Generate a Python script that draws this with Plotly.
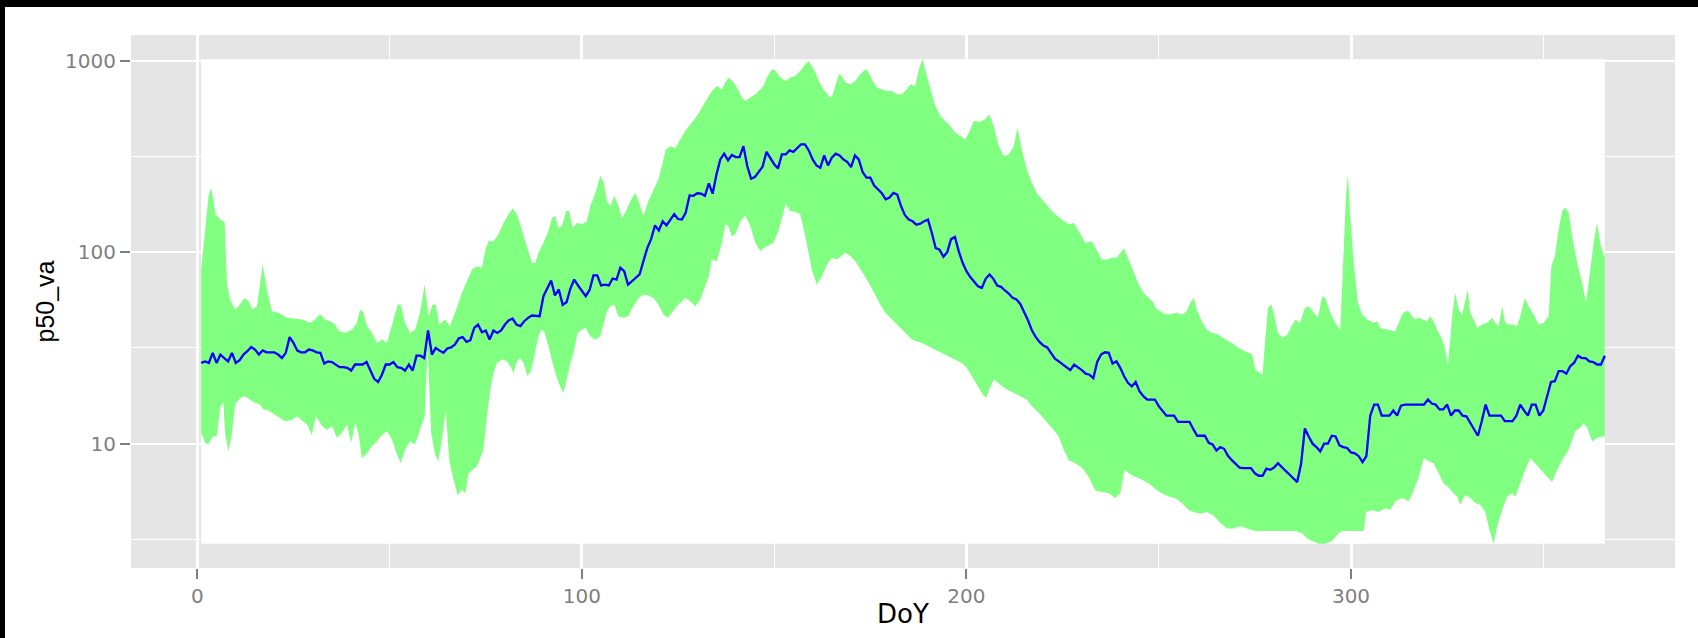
import plotly.graph_objects as go
import math

# ---------------- data ----------------
median = [
    26.4, 26.9, 26.4, 29.8, 26.4, 29.2, 28.0, 26.9, 29.8, 26.4,
    27.3, 29.2, 30.4, 32.0, 31.0, 29.2, 30.7, 30.0, 30.0, 30.0,
    29.2, 28.0, 29.8, 36.0, 33.6, 30.6, 30.0, 30.0, 31.0, 30.7,
    30.0, 29.8, 26.2, 26.9, 26.7, 25.9, 25.1, 25.1, 24.9, 24.1,
    25.9, 25.9, 25.9, 26.7, 23.9, 21.8, 21.0, 22.9, 25.9, 25.9,
    26.7, 25.1, 24.9, 24.1, 25.9, 24.1, 28.8, 28.8, 28.0, 39.0,
    29.2, 31.6, 30.6, 29.8, 31.4, 31.8, 33.0, 35.5, 36.0, 34.0,
    34.7, 40.2, 41.9, 38.2, 39.0, 35.0, 39.0, 37.9, 39.0, 41.9,
    44.1, 44.9, 41.9, 41.1, 43.6, 45.4, 46.7, 46.3, 46.3, 58.9,
    64.4, 71.1, 59.4, 63.9, 53.1, 54.8, 64.4, 72.0, 67.0, 62.6,
    58.9, 63.5, 75.6, 75.6, 67.0, 67.6, 67.0, 72.9, 72.0, 82.9,
    79.6, 67.6, 70.6, 73.5, 76.5, 89.8, 105, 117, 138, 130,
    145, 138, 148, 158, 149, 148, 161, 198, 197, 203,
    202, 197, 229, 202, 255, 305, 327, 302, 322, 314,
    314, 358, 282, 242, 247, 265, 280, 334, 308, 288,
    274, 324, 324, 340, 334, 351, 366, 366, 340, 305,
    284, 276, 320, 284, 312, 327, 320, 305, 296, 278,
    320, 305, 262, 245, 245, 223, 213, 203, 189, 193,
    204, 200, 174, 156, 148, 145, 139, 141, 145, 148,
    126, 105, 103, 94.6, 100, 117, 120, 101, 88.0, 79.6,
    74.1, 70.0, 66.4, 65.1, 72.6, 76.5, 72.6, 67.0, 65.9, 63.1,
    60.8, 57.7, 56.6, 53.7, 48.8, 44.1, 39.1, 36.1, 34.0, 32.5,
    31.8, 29.8, 27.8, 26.9, 25.9, 25.1, 24.2, 25.9, 25.1, 24.2,
    23.2, 22.9, 22.0, 26.7, 29.2, 30.0, 29.8, 26.2, 26.9, 24.9,
    22.5, 20.8, 19.9, 21.0, 18.8, 17.7, 17.0, 17.0, 17.0, 15.7,
    14.8, 14.0, 14.0, 14.0, 13.0, 13.0, 13.0, 13.0, 11.9, 11.0,
    11.0, 11.0, 10.1, 9.9, 9.2, 9.6, 9.4, 8.65, 8.2, 7.8,
    7.5, 7.45, 7.45, 7.45, 7.0, 6.8, 6.8, 7.4, 7.3, 7.5,
    7.9, 7.5, 7.2, 6.9, 6.6, 6.3, 7.8, 12.0, 10.9, 10.0,
    9.6, 9.1, 10.0, 10.0, 11.0, 10.9, 9.8, 9.6, 9.5, 9.0,
    8.9, 8.6, 8.0, 8.6, 14.0, 16.0, 16.0, 14.0, 14.0, 14.0,
    14.9, 14.0, 15.8, 16.0, 16.0, 16.0, 16.0, 16.0, 16.0, 17.0,
    16.2, 16.0, 15.1, 15.1, 16.0, 14.0, 14.9, 14.9, 14.0, 13.9,
    12.8, 11.8, 11.0, 13.1, 16.0, 14.0, 14.0, 14.0, 14.0, 13.1,
    13.1, 13.1, 14.0, 16.0, 14.9, 14.0, 16.0, 16.0, 14.0, 14.9,
    17.7, 21.0, 21.2, 23.9, 23.9, 23.2, 25.4, 26.4, 28.8, 28.0,
    28.0, 26.9, 26.7, 25.9, 25.9, 28.8,
]
doy = list(range(1, len(median) + 1))

upper_doy = [
    1, 2, 2.9, 3.6, 4.8, 5.9, 7.1, 7.7, 8.5, 9.8, 10.7, 12.3, 13.3, 14.3, 15.5, 17.0, 18.1, 19.4,
    21.1, 23.3, 25.4, 27.2, 29.3, 30.6, 31.9, 33.2, 34.5, 35.8, 36.9, 38.4, 40.2, 41.5, 42.3, 43.2,
    44.1, 45.4, 46.7, 48.0, 49.3, 50.6, 52.1, 52.9, 54.0, 55.3, 56.6, 57.9, 59.1, 60.1, 61.2, 62.0,
    62.9, 64.4, 65.7, 67.0, 68.8, 70.1, 71.4, 72.7, 74.0, 74.9, 75.7, 77.0, 78.3, 79.6, 80.9, 82.0,
    83.1, 84.4, 85.7, 87.0, 87.9, 88.7, 90.0, 91.3, 92.2, 93.1, 93.8, 94.8, 95.9, 96.7, 97.6, 98.7,
    100.0, 101.3, 102.2, 103.5, 104.8, 105.6, 106.5, 107.4, 108.4, 109.5, 110.4, 111.3, 112.6, 113.9,
    114.9, 116.0, 117.3, 118.6, 119.9, 120.8, 121.8, 123.0,
    124.3, 125.6, 126.9, 128.6, 129.9, 131.2, 132.5, 133.8, 135.1, 136.4, 137.3, 138.1, 139.2, 140.3,
    141.6, 142.5, 143.8, 145.1, 146.4, 147.2, 148.1, 149.4, 150.3, 151.6, 152.9, 154.2, 155.5, 156.8,
    158.1, 159.0, 159.8, 160.7, 161.6, 162.8, 164.2, 165.0, 165.9, 166.8, 167.6, 168.5, 169.8, 171.1,
    172.0, 173.3, 174.1, 175.4, 176.7, 178.0, 179.3, 180.6, 181.9, 183.2, 184.5, 185.4, 186.7,
    187.6, 188.6, 189.7, 190.6, 191.9, 193.2, 194.5, 195.8, 197.1, 198.4, 199.7, 200.6, 201.9, 203.6,
    204.9, 205.9, 207.1, 208.4, 209.7, 211.0, 212.3, 213.3, 214.4, 215.7, 217.0, 218.3, 219.6, 221.4,
    223.1, 224.8, 226.6, 227.9, 229.2, 230.9, 232.6, 233.9, 235.2, 236.5, 237.8, 239.1, 240.9, 242.2,
    243.5, 244.8, 246.1, 247.4, 248.7,
    249.1, 250.4, 251.7, 253.4, 254.7, 256.0, 257.3, 258.2, 259.1, 259.9, 261.2, 262.5, 263.8, 265.6,
    267.3, 269.0, 270.8, 272.5, 274.3, 275.1, 276.2, 277.0, 277.7, 278.4, 279.3, 280.1, 281.0, 282.1,
    283.4, 284.7, 285.5, 286.8, 288.0, 289.0, 290.3, 291.4, 292.5, 293.3, 294.6, 295.9, 297.2, 298.1,
    298.7, 299.2, 299.8, 300.7, 301.8, 302.9, 304.2, 305.9, 306.8, 307.6, 308.9, 310.2, 311.5,
    312.4, 313.3, 314.1, 315.0, 315.9, 316.7, 317.6, 318.5, 319.8, 320.6, 321.5, 322.4, 323.7, 324.5,
    325.2, 325.8, 326.4, 327.1, 328.0, 328.9, 329.7, 330.4, 331.0, 331.9, 332.8, 334.1, 335.4, 336.7,
    337.5, 338.4, 339.3, 340.1, 341.0, 342.0, 343.2, 344.0, 345.2, 346.2, 347.5, 348.8, 350.1, 351.4,
    352.1, 353.0, 354.0, 354.9, 355.7, 356.6, 357.5, 358.8, 360.1, 361.1, 362.0, 363.1, 364.0, 364.8,
    365.7, 366,
]
upper = [
    81, 131, 196, 217, 157, 148, 144, 69, 56.6, 50.2, 52.2, 57.7, 55.5, 50.2, 52.2, 86.3, 63.8, 49.2,
    48.2, 45.4, 44.9, 44.5, 42.8, 44.5, 47.6, 44.5, 43.6, 41.9, 38.7, 37.9, 39.4, 42.8, 50.2, 48.2,
    41.1, 37.9, 33.6, 35.0, 33.6, 41.1, 53.3, 53.3, 42.8, 37.9, 39.4, 48.2, 67.8, 46.3, 53.3, 53.3,
    41.9, 44.5, 41.1, 48.2, 61.3, 70.6, 81.2, 84.5, 82.9, 103, 114, 114, 124, 142, 158, 169,
    158, 131, 108, 88, 88, 99.3, 112, 129, 151, 155, 134, 137, 164, 164, 134, 142,
    140, 145, 174, 204, 250, 235, 185, 174, 197, 174, 151, 161, 185, 204,
    181, 155, 185, 213, 240, 282, 344, 358,
    350, 389, 430, 475, 514, 569, 629, 695, 738, 709, 769, 816, 784, 724,
    642, 616, 642, 668, 709, 738, 816, 902, 885, 816, 784, 816, 833, 885,
    958, 998, 939, 867, 784, 709, 655, 642, 738, 850, 833, 769, 753, 784,
    833, 885, 902, 800, 724, 709, 695, 695, 668, 668, 709, 753, 738,
    902, 1018, 833, 709, 580, 514, 485, 456, 421, 404, 389, 421, 485, 480,
    494, 525, 456, 358, 318, 324, 358, 447, 344, 271, 231, 204, 189, 171,
    158, 148, 140, 142, 129, 112, 114, 103, 91.6, 91.6, 93.5, 93.5, 105, 91.6,
    77.8, 67.8, 61.3, 57.7, 54.4,
    51.2, 49.2, 47.2, 47.6, 48.2, 47.2, 49.2, 54.4, 57.7, 50.2, 43.6, 39.4, 37.9, 37.1,
    35.0, 33.6, 31.6, 30.4, 29.2, 24.4, 23.4, 22.9, 35.0, 51.2, 53.3, 46.3, 37.9, 35.7,
    37.1, 41.1, 44.5, 42.8, 51.2, 52.2, 48.2, 45.4, 58.9, 57.7, 48.2, 42.8, 39.4, 95.4,
    197, 255, 155, 88, 54.4, 47.2, 44.5, 42.8, 43.6, 40.2, 39.7, 39.4, 38.7,
    42.8, 47.2, 49.2, 49.2, 46.3, 44.5, 45.4, 44.5, 43.6, 46.3, 43.6, 39.4, 35.0, 31.0,
    25.9, 35.0, 48.2, 61.3, 50.2, 47.2, 55.5, 63.8, 48.2, 44.5, 40.2, 41.9, 42.8, 45.4,
    42.8, 41.1, 52.2, 42.8, 41.9, 41.9, 41.1, 46.3, 57.7, 52.2, 47.2, 41.9, 42.8, 46.3,
    84.5, 95.5, 131, 164, 171, 161, 121, 88, 69.2, 54.4, 74.9, 112, 142, 112,
    95.5, 99.3,
]

lower_doy = [
    1, 2, 2.9, 4.0, 5.0, 6.0, 6.8, 7.2, 8.1, 9.0, 9.8, 11.1, 12.4, 13.7, 15.0, 16.3, 17.2, 18.5,
    20.2, 21.5, 22.8, 24.6, 25.9, 27.2, 28.5, 29.8, 30.8, 32.4, 33.7, 35.0, 36.3, 37.6, 38.9, 40.0,
    41.0, 41.9, 42.8, 44.1, 45.4, 46.7, 48.0, 49.3, 50.6, 51.9, 52.9, 54.0, 55.3, 56.6, 57.9, 59.1,
    59.9, 60.8, 61.8,
    62.7, 63.8, 64.6, 65.5, 66.6, 67.7, 68.8, 69.7, 70.5, 71.6, 72.7, 73.6, 74.4, 75.3, 76.2, 77.0,
    77.9, 79.2, 80.5, 81.4, 82.2, 83.1, 84.0, 84.8, 85.9, 86.7, 87.6, 88.5, 89.3, 90.2, 91.3, 92.6,
    93.9, 95.2, 96.1, 97.0, 97.8, 98.9, 100.0, 101.0, 102.2, 103.5, 104.8, 105.6, 106.5, 107.4, 108.4,
    109.5, 110.8, 112.1, 113.4, 114.7, 116.0, 117.3, 118.6, 119.9, 121.2, 122.3, 123.4, 124.7,
    125.6, 126.9, 128.2, 129.5, 130.8, 132.1, 133.0, 133.8, 135.1, 136.4, 137.3, 138.1, 139.0, 139.9,
    141.2, 142.5, 143.8, 145.1, 146.4, 147.2, 148.5, 149.8, 151.1, 152.0, 153.0, 154.2, 155.5, 156.8,
    158.1, 159.0, 159.8, 161.1, 162.4, 163.7, 165.0, 166.3, 167.2, 168.5, 169.8, 171.1, 172.8, 174.6,
    176.3, 177.6, 178.9, 180.6, 182.4, 184.1, 185.8,
    188.4, 190.2, 191.9, 193.6, 195.4, 197.1, 198.8, 200.1, 201.4, 202.7, 204.0, 205.1, 206.2, 207.2,
    208.8, 210.5, 212.3, 214.0, 215.7, 217.0, 218.8, 220.5, 222.2, 224.0, 225.3, 226.6, 228.3, 230.0,
    231.8, 233.5, 235.2, 237.0, 238.7, 240.0, 241.1, 242.2, 243.9, 245.6, 247.4,
    249.1, 250.8, 252.6, 254.3, 256.0, 257.8, 259.1, 260.8, 262.5, 264.3, 266.0, 267.8, 269.5, 271.2,
    273.0, 275.1, 278.6, 282.1, 285.5, 287.3, 288.6, 289.9, 291.6, 293.3, 295.1, 296.4, 297.7, 301.1,
    303.3, 303.9, 305.5, 307.2, 308.9, 310.2, 311.5,
    313.3, 315.0, 316.3, 317.6, 318.9, 320.2, 321.5, 322.8, 324.1, 325.4, 326.7, 327.6, 328.4, 329.7,
    331.0, 332.3, 333.6, 334.9, 336.0, 337.1, 338.0, 339.3, 340.6, 341.9, 342.7, 344.0, 345.3, 346.6,
    347.9, 349.7, 351.0, 352.3, 353.6, 354.9, 356.6, 358.3, 359.6, 360.5, 361.4, 362.7, 364.0, 365.3,
    366,
]
lower = [
    11.4, 10.1, 9.9, 10.9, 10.9, 15.7, 16.3, 11.4, 9.1, 11.4, 16.0, 17.3, 17.7, 17.0, 16.3, 16.0, 15.1, 14.9,
    14.2, 13.6, 13.1, 13.3, 13.9, 13.3, 12.6, 11.1, 13.9, 12.4, 11.8, 12.4, 10.7, 11.4, 12.6, 10.1,
    12.8, 11.4, 8.4, 8.9, 9.7, 10.3, 11.1, 11.6, 10.5, 8.8, 7.9, 9.3, 10.3, 9.9, 11.8, 13.9,
    31.0, 11.4, 8.8,
    8.1, 11.4, 15.1, 8.2, 6.5, 5.4, 5.74, 5.5, 7.0, 7.3, 7.6, 8.4, 9.3, 13.9, 19.2, 23.4,
    26.4, 27.5, 26.9, 25.4, 23.4, 26.9, 28.0, 26.4, 22.5, 23.9, 28.6, 35.0, 39.4, 38.7, 32.3, 25.4,
    20.8, 18.4, 21.6, 26.4, 29.8, 37.9, 39.4, 40.2, 36.4, 35.0, 36.4, 41.1, 49.2, 52.2, 53.3,
    46.3, 45.4, 46.3, 52.2, 57.7, 60.1, 59.4, 57.7, 53.3, 47.2, 45.4, 48.2, 52.2,
    54.4, 57.7, 55.5, 52.2, 56.6, 66.4, 74.9, 91.6, 89.8, 112, 140, 137, 121, 124,
    145, 155, 137, 112, 101, 105, 108, 112, 129, 151, 178, 164, 162, 158,
    121, 99.3, 81.2, 67.6, 74.9, 86.3, 93.5, 91.6, 94.6, 99.3, 95.5, 89.8, 79.6, 69.2,
    60.1, 53.3, 48.2, 44.5, 41.1, 37.9, 35.0,
    33.6, 32.3, 31.0, 29.8, 28.6, 27.5, 26.4, 24.9, 22.5, 20.3, 18.4, 17.3, 19.9, 21.6,
    20.3, 19.2, 18.4, 17.7, 17.0, 15.7, 14.5, 13.3, 12.1, 10.9, 9.3, 8.2, 7.9, 7.5,
    6.7, 5.7, 5.6, 5.5, 5.2, 5.5, 7.3, 7.0, 6.7, 6.5, 6.2,
    5.8, 5.5, 5.3, 5.2, 4.9, 4.5, 4.4, 4.3, 4.4, 4.2, 3.85, 3.6, 3.6, 3.7,
    3.6, 3.5, 3.5, 3.5, 3.5, 3.4, 3.2, 3.1, 3.0, 3.0, 3.1, 3.35, 3.5, 3.5,
    3.5, 4.4, 4.5, 4.4, 4.6, 4.5, 5.0,
    5.2, 5.0, 5.7, 6.7, 8.4, 8.1, 7.9, 7.0, 6.2, 5.9, 5.5, 5.3, 4.8, 5.4,
    5.2, 4.9, 4.8, 4.4, 3.55, 3.0, 3.7, 4.5, 5.3, 5.5, 5.3, 6.2, 7.3, 8.4,
    7.9, 7.2, 6.7, 6.3, 7.3, 8.2, 9.3, 11.6, 12.1, 12.8, 12.1, 10.3, 10.7, 10.9,
    10.9,
]

x_ticks = [0, 100, 200, 300]
x_minor = [50, 150, 250, 350]
y_ticks = [10, 100, 1000]
y_ticktext = ["10", "100", "1000"]
y_minor = [10 ** 0.5, 10 ** 1.5, 10 ** 2.5]

# ---------------- layout constants ----------------
W, H = 1698, 638
ML, MR, MT, MB = 131, 23, 35, 70
PW, PH = W - ML - MR, H - MT - MB
GREY_TXT = "#7F7F7F"
FONT = "DejaVu Sans, Liberation Sans, Arial, sans-serif"
FONT_V = "Liberation Sans, Arial, Helvetica, sans-serif"

# ggplot-like 5% expansion of the data range
xmin, xmax = min(min(upper_doy), min(lower_doy)), max(max(upper_doy), max(lower_doy))
ymin, ymax = min(lower), max(upper)
xspan = xmax - xmin
lmin, lmax = math.log10(ymin), math.log10(ymax)
lspan = lmax - lmin

fig = go.Figure()

# white data-extent panel
fig.add_trace(go.Scatter(
    x=[xmin, xmax, xmax, xmin, xmin], y=[ymin, ymin, ymax, ymax, ymin],
    mode="lines", fill="toself", fillcolor="white", line=dict(width=0),
    hoverinfo="skip", showlegend=False))

# ribbon
fig.add_trace(go.Scatter(
    x=upper_doy + lower_doy[::-1], y=upper + lower[::-1],
    mode="lines", fill="toself", fillcolor="#80FF80", line=dict(width=0),
    hoverinfo="skip", showlegend=False))

# median line
fig.add_trace(go.Scatter(
    x=doy, y=median, mode="lines", line=dict(color="#0000FF", width=2.3),
    showlegend=False))

fig.update_layout(
    width=W, height=H,
    margin=dict(l=ML, r=MR, t=MT, b=MB, pad=0),
    paper_bgcolor="white", plot_bgcolor="#E5E5E5",
    font=dict(family=FONT, size=20, color=GREY_TXT),
    showlegend=False,
)

fig.update_xaxes(
    range=[xmin - 0.05 * xspan, xmax + 0.05 * xspan],
    tickmode="array", tickvals=x_ticks, ticktext=[str(v) for v in x_ticks],
    ticks="outside", ticklen=10, tickwidth=2.3, tickcolor=GREY_TXT,
    tickfont=dict(family=FONT, size=20, color=GREY_TXT),
    showgrid=True, gridcolor="white", gridwidth=2.6,
    zeroline=False, showline=False,
    minor=dict(tickvals=x_minor, showgrid=True, gridcolor="white", gridwidth=1.4, ticks=""),
)
fig.update_yaxes(
    type="log",
    range=[lmin - 0.05 * lspan, lmax + 0.05 * lspan],
    tickmode="array", tickvals=y_ticks, ticktext=y_ticktext,
    ticks="outside", ticklen=10, tickwidth=2, tickcolor=GREY_TXT,
    tickfont=dict(family=FONT, size=20, color=GREY_TXT),
    showgrid=True, gridcolor="white", gridwidth=2,
    zeroline=False, showline=False,
    minor=dict(tickvals=y_minor, showgrid=True, gridcolor="white", gridwidth=1, ticks=""),
)

# axis titles
fig.add_annotation(text="DoY", xref="paper", yref="paper", x=0.5, y=-46 / PH,
                   xanchor="center", yanchor="middle", showarrow=False,
                   font=dict(family=FONT, size=26, color="black"))
fig.add_annotation(text="p50_va", xref="paper", yref="paper", x=(44 - ML) / PW, y=0.5,
                   xanchor="center", yanchor="middle", showarrow=False, textangle=-90,
                   font=dict(family=FONT_V, size=25, color="black"))

# black frame edges (top and left) of the original image
px = lambda p: (p - ML) / PW
py = lambda p: (H - MB - p) / PH
fig.add_shape(type="rect", xref="paper", yref="paper", x0=px(-5), x1=px(W + 5), y0=py(7), y1=py(-5),
              fillcolor="black", line=dict(width=0), layer="above")
fig.add_shape(type="rect", xref="paper", yref="paper", x0=px(-5), x1=px(5), y0=py(H + 5), y1=py(-5),
              fillcolor="black", line=dict(width=0), layer="above")

fig.write_html("out.html")
